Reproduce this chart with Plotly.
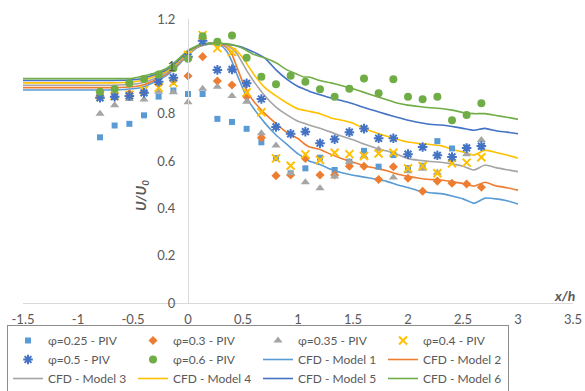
import plotly.graph_objects as go

# PIV measurement stations (x/h)
piv_x = [-0.8, -0.667, -0.533, -0.4, -0.267, -0.133, 0.0, 0.133, 0.267, 0.4,
         0.533, 0.667, 0.8, 0.933, 1.067, 1.2, 1.333, 1.467, 1.6, 1.733,
         1.867, 2.0, 2.133, 2.267, 2.4, 2.533, 2.667]

piv_025 = [0.70, 0.75, 0.757, 0.793, 0.872, 0.898, 0.883, 0.883, 0.778, 0.765,
           0.736, 0.679, 0.612, 0.548, 0.569, 0.614, 0.562, 0.597, 0.643, 0.576,
           0.625, 0.57, 0.58, 0.684, 0.653, 0.656, 0.66]
piv_030 = [0.875, 0.872, 0.885, 0.89, 0.925, 0.939, 0.959, 1.041, 0.938, 0.921,
           0.872, 0.698, 0.538, 0.541, 0.611, 0.541, 0.541, 0.578, 0.578, 0.522,
           0.576, 0.527, 0.472, 0.515, 0.506, 0.503, 0.489]
piv_035 = [0.80, 0.836, 0.862, 0.86, 0.893, 0.89, 0.848, 0.905, 0.914, 0.875,
           0.85, 0.717, 0.665, 0.548, 0.51, 0.485, 0.535, 0.597, 0.62, 0.649,
           0.53, 0.557, 0.567, 0.55, 0.604, 0.629, 0.689]
piv_040 = [0.878, 0.875, 0.879, 0.90, 0.91, 0.93, 1.048, 1.132, 1.077, 1.06,
           0.89, 0.806, 0.611, 0.58, 0.628, 0.604, 0.635, 0.629, 0.621, 0.632,
           0.635, 0.569, 0.579, 0.548, 0.59, 0.593, 0.616]
piv_050 = [0.867, 0.872, 0.875, 0.888, 0.935, 0.952, 1.04, 1.108, 0.985, 0.987,
           0.928, 0.862, 0.744, 0.715, 0.724, 0.675, 0.692, 0.722, 0.737, 0.696,
           0.696, 0.629, 0.659, 0.624, 0.617, 0.655, 0.663]
piv_060 = [0.893, 0.904, 0.928, 0.946, 0.965, 0.992, 1.032, 1.127, 1.104, 1.13,
           1.036, 0.956, 0.924, 0.96, 0.935, 0.903, 0.872, 0.905, 0.949, 0.886,
           0.945, 0.872, 0.861, 0.872, 0.772, 0.794, 0.844]

# CFD profiles
cfd_x = [-1.5, -1.0, -0.7, -0.5, -0.4, -0.3, -0.2, -0.1, 0.0, 0.1,
         0.2, 0.3, 0.35, 0.4, 0.45, 0.5, 0.55, 0.6, 0.7, 0.8,
         0.9, 1.0, 1.05, 1.1, 1.2, 1.3, 1.4, 1.5, 1.6, 1.7,
         1.8, 1.9, 2.0, 2.1, 2.2, 2.3, 2.4, 2.5, 2.6, 2.7,
         2.8, 2.9, 3.0]

cfd_m1 = [0.900, 0.900, 0.900, 0.905, 0.914, 0.935, 0.960, 1.000, 1.048, 1.083,
          1.095, 1.088, 1.065, 1.020, 0.960, 0.905, 0.855, 0.820, 0.760, 0.710,
          0.670, 0.630, 0.615, 0.600, 0.585, 0.565, 0.550, 0.540, 0.532, 0.524,
          0.515, 0.500, 0.488, 0.474, 0.466, 0.462, 0.452, 0.440, 0.421, 0.443,
          0.440, 0.432, 0.418]
cfd_m2 = [0.910, 0.910, 0.910, 0.914, 0.922, 0.942, 0.966, 1.005, 1.052, 1.085,
          1.096, 1.092, 1.080, 1.050, 0.990, 0.930, 0.885, 0.850, 0.800, 0.758,
          0.720, 0.695, 0.675, 0.660, 0.649, 0.628, 0.610, 0.595, 0.580, 0.570,
          0.560, 0.545, 0.535, 0.527, 0.522, 0.520, 0.513, 0.505, 0.494, 0.510,
          0.495, 0.487, 0.477]
cfd_m3 = [0.920, 0.920, 0.920, 0.924, 0.932, 0.950, 0.972, 1.010, 1.056, 1.087,
          1.097, 1.095, 1.088, 1.075, 1.050, 1.010, 0.970, 0.935, 0.875, 0.828,
          0.795, 0.768, 0.760, 0.752, 0.738, 0.722, 0.705, 0.690, 0.672, 0.656,
          0.643, 0.628, 0.610, 0.603, 0.598, 0.595, 0.588, 0.578, 0.562, 0.583,
          0.572, 0.563, 0.555]
cfd_m4 = [0.930, 0.930, 0.930, 0.934, 0.942, 0.958, 0.978, 1.015, 1.060, 1.088,
          1.097, 1.096, 1.092, 1.080, 1.062, 1.035, 1.000, 0.965, 0.910, 0.875,
          0.845, 0.820, 0.815, 0.810, 0.800, 0.782, 0.772, 0.760, 0.738, 0.720,
          0.706, 0.692, 0.680, 0.674, 0.670, 0.665, 0.650, 0.638, 0.625, 0.646,
          0.636, 0.625, 0.612]
cfd_m5 = [0.940, 0.940, 0.940, 0.943, 0.951, 0.965, 0.984, 1.020, 1.064, 1.089,
          1.097, 1.096, 1.094, 1.090, 1.086, 1.080, 1.070, 1.060, 1.035, 0.985,
          0.945, 0.915, 0.905, 0.895, 0.880, 0.866, 0.855, 0.842, 0.826, 0.812,
          0.798, 0.785, 0.772, 0.763, 0.755, 0.752, 0.746, 0.738, 0.730, 0.738,
          0.728, 0.722, 0.715]
cfd_m6 = [0.948, 0.948, 0.948, 0.950, 0.960, 0.972, 0.990, 1.025, 1.068, 1.090,
          1.097, 1.097, 1.095, 1.092, 1.085, 1.075, 1.062, 1.050, 1.035, 1.015,
          0.985, 0.965, 0.955, 0.955, 0.940, 0.930, 0.918, 0.905, 0.890, 0.875,
          0.860, 0.845, 0.836, 0.830, 0.825, 0.822, 0.815, 0.805, 0.800, 0.800,
          0.792, 0.785, 0.776]

x_ticks = [-1.5, -1, -0.5, 0, 0.5, 1, 1.5, 2, 2.5, 3, 3.5]
x_ticktext = ["-1.5", "-1", "-0.5", "0", "0.5", "1", "1.5", "2", "2.5", "3", "3.5"]
y_ticks = [0, 0.2, 0.4, 0.6, 0.8, 1.0, 1.2]
y_ticktext = ["0", "0.2", "0.4", "0.6", "0.8", "1", "1.2"]

BLUE = "#5B9BD5"
ORANGE = "#ED7D31"
GRAY = "#A5A5A5"
GOLD = "#FFC000"
DBLUE = "#4472C4"
GREEN = "#70AD47"
TEXT = "#595959"
FONT = "Lato"

fig = go.Figure()

cfd_series = [
    ("CFD - Model 1", cfd_m1, BLUE),
    ("CFD - Model 2", cfd_m2, ORANGE),
    ("CFD - Model 3", cfd_m3, GRAY),
    ("CFD - Model 4", cfd_m4, GOLD),
    ("CFD - Model 5", cfd_m5, DBLUE),
    ("CFD - Model 6", cfd_m6, GREEN),
]
for i, (name, ys, col) in enumerate(cfd_series):
    fig.add_trace(go.Scatter(
        x=cfd_x, y=ys, mode="lines", name=name, legendrank=10 + i,
        line=dict(color=col, width=1.6, shape="spline", smoothing=0.4),
    ))

piv_series = [
    ("φ=0.25 - PIV", piv_025, dict(symbol="square", size=6, color=BLUE)),
    ("φ=0.3 - PIV", piv_030, dict(symbol="diamond", size=7, color=ORANGE)),
    ("φ=0.35 - PIV", piv_035, dict(symbol="triangle-up", size=8, color=GRAY)),
    ("φ=0.4 - PIV", piv_040, dict(symbol="x-thin-open", size=8, color=GOLD,
                                  line=dict(color=GOLD, width=2))),
    ("φ=0.5 - PIV", piv_050, dict(symbol="asterisk-open", size=8, color=DBLUE,
                                  line=dict(color=DBLUE, width=2))),
    ("φ=0.6 - PIV", piv_060, dict(symbol="circle", size=8, color=GREEN)),
]
for i, (name, ys, mk) in enumerate(piv_series):
    fig.add_trace(go.Scatter(
        x=piv_x, y=ys, mode="markers", name=name, legendrank=1 + i,
        marker=mk, cliponaxis=False,
    ))

fig.update_layout(
    width=585, height=391,
    margin=dict(l=23, r=12, t=19, b=88),
    paper_bgcolor="white", plot_bgcolor="white",
    font=dict(family=FONT, size=13, color=TEXT),
    showlegend=True,
    legend=dict(
        orientation="h", xref="container", x=0.012, xanchor="left",
        yref="container", y=0.1688, yanchor="top",
        bordercolor="#8C8C8C", borderwidth=1, bgcolor="white",
        entrywidth=80, itemwidth=30, font=dict(family=FONT, size=12, color=TEXT),
        traceorder="normal", tracegroupgap=0,
    ),
    xaxis=dict(
        range=[-1.5, 3.5], tickvals=x_ticks, ticktext=x_ticktext,
        showgrid=False, zeroline=False, showline=True, linecolor="#D9D9D9",
        linewidth=1, ticks="", ticklabelstandoff=4, automargin=False,
        tickfont=dict(family=FONT, size=13, color=TEXT),
    ),
    yaxis=dict(
        range=[0, 1.2], tickvals=y_ticks, ticktext=y_ticktext,
        anchor="free", position=0.3, automargin=False,
        showgrid=False, zeroline=False, showline=True, linecolor="#D9D9D9",
        linewidth=1, ticks="", ticklabelstandoff=10,
        tickfont=dict(family=FONT, size=13, color=TEXT),
    ),
    annotations=[
        dict(text="<b><i>x/h</i></b>", xref="paper", yref="paper",
             x=1.0073, y=0.028, xanchor="right", yanchor="middle",
             showarrow=False, font=dict(family=FONT, size=14, color=TEXT)),
        dict(text="<b><i>U/U<sub>0</sub></i></b>", xref="paper", yref="paper",
             x=0.2164, y=0.377, xanchor="center", yanchor="middle",
             textangle=-90, showarrow=False,
             font=dict(family=FONT, size=14, color=TEXT)),
    ],
)

fig.write_html("out.html")
